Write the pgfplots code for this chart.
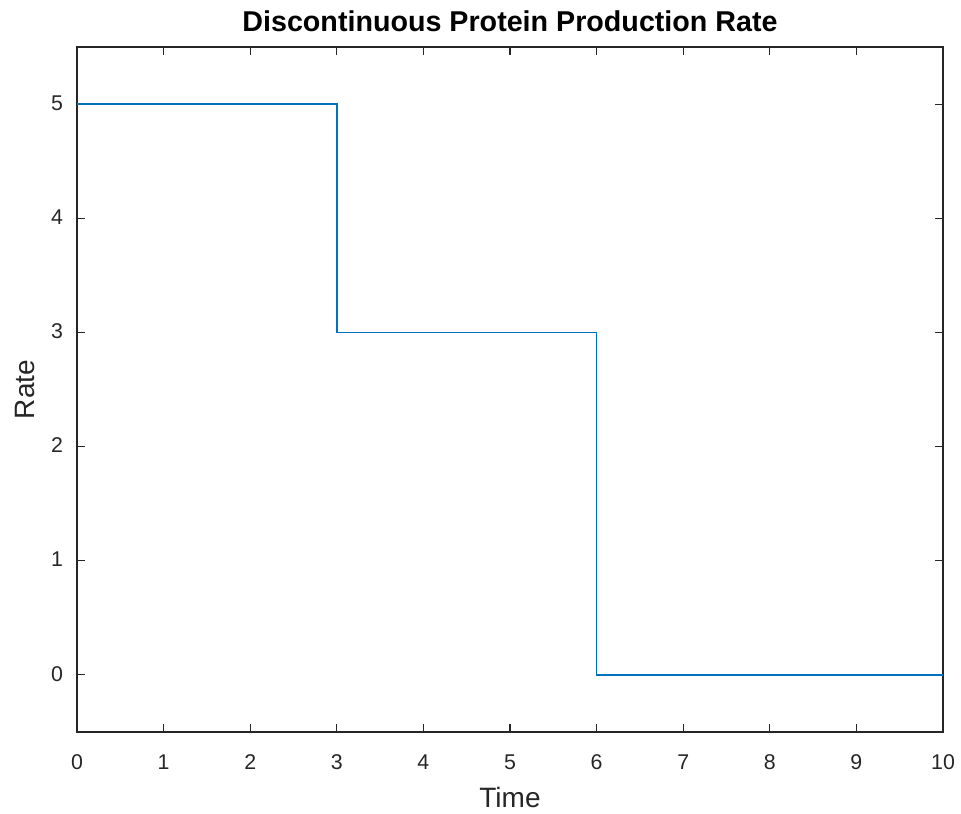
\documentclass[border=0pt]{standalone}
\usepackage{pgfplots}
\pgfplotsset{compat=1.18}
\usepackage{fontspec}
\setmainfont{Liberation Sans}
\definecolor{mlblue}{rgb}{0,0.447,0.741}
\definecolor{mlgray}{HTML}{262626}
\begin{document}
\begin{tikzpicture}
\path[use as bounding box] (-57.75pt,-61.5pt) rectangle (663pt,549pt);
\begin{axis}[
  at={(0,0)}, anchor=south west,
  scale only axis, width=649.5pt, height=513.75pt,
  xmin=0, xmax=10, ymin=-0.5, ymax=5.5,
  xtick={0,1,...,10}, ytick={0,1,...,5},
  tick align=inside, major tick length=6pt,
  axis line style={mlgray, line width=0.8pt},
  every tick/.style={mlgray, line width=0.8pt},
  tick label style={font=\fontsize{16}{18}\selectfont, text=mlgray},
  xticklabel style={anchor=mid, yshift=-25.5pt},
  yticklabel style={anchor=mid, xshift=-15pt, yshift=-2pt},
  /pgf/number format/assume math mode=true,
  title={\textbf{Discontinuous Protein Production Rate}},
  title style={font=\fontsize{21.5}{24}\selectfont, text=black, at={(axis description cs:0.5,1)}, anchor=center, yshift=13.5pt},
  xlabel={Time}, ylabel={Rate},
  xlabel style={font=\fontsize{21}{24}\selectfont, text=mlgray, at={(axis description cs:0.5,0)}, anchor=center, yshift=-49pt},
  ylabel style={font=\fontsize{21}{24}\selectfont, text=mlgray, at={(axis description cs:0,0.5)}, anchor=center, yshift=39pt},
  clip=false,
]
\addplot[mlblue, line width=1.2pt, const plot] coordinates {
  (0,5) (3,3) (6,0) (10,0)
};
\end{axis}
\end{tikzpicture}
\end{document}
